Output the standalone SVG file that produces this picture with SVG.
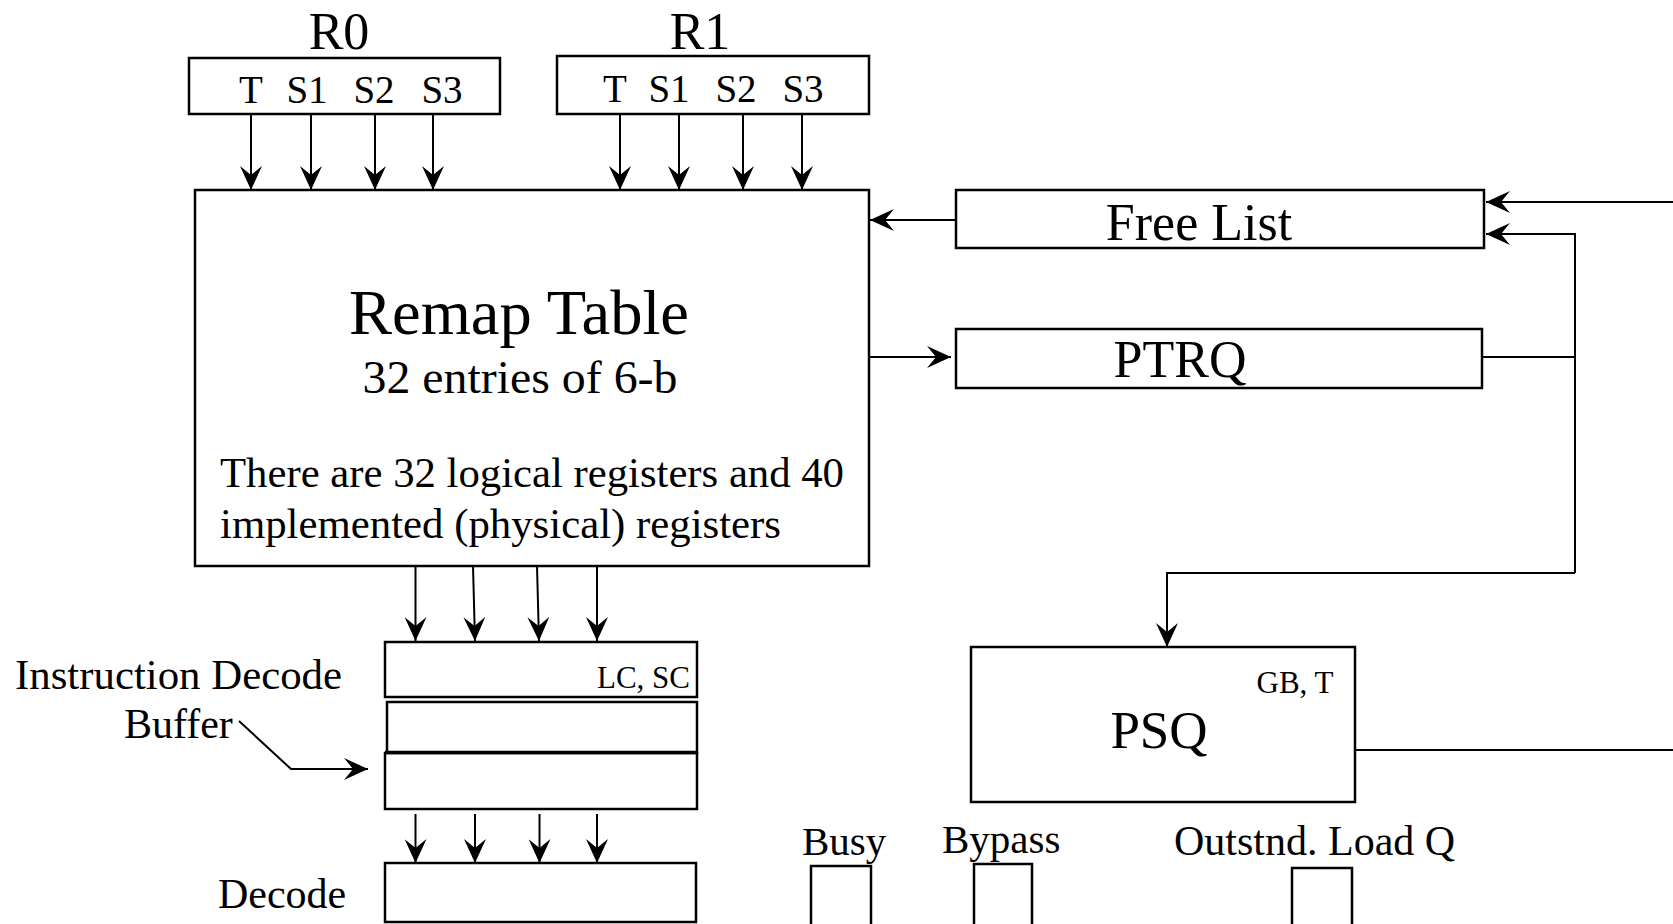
<svg xmlns="http://www.w3.org/2000/svg" width="1673" height="924" viewBox="0 0 1673 924">
<style>
.box{fill:#fff;stroke:#000;stroke-width:2.5}
.ln{fill:none;stroke:#000;stroke-width:2}
.arr{fill:none;stroke:#000;stroke-width:2;marker-end:url(#ah)}
text{font-family:"Liberation Serif","Times New Roman",serif;fill:#000}
.m{text-anchor:middle}
.e{text-anchor:end}
</style>
<defs>
<marker id="ah" markerUnits="userSpaceOnUse" viewBox="0 0 24 22" markerWidth="24" markerHeight="22" refX="24" refY="11" orient="auto">
<path d="M0,0 L24,11 L0,22 L9,11 Z" fill="#000"/>
</marker>
</defs>
<rect width="1673" height="924" fill="#fff"/>
<g id="connectors">
<path class="arr" d="M251,114 V190"/>
<path class="arr" d="M311,114 V190"/>
<path class="arr" d="M375,114 V190"/>
<path class="arr" d="M433,114 V190"/>
<path class="arr" d="M620,114 V190"/>
<path class="arr" d="M679,114 V190"/>
<path class="arr" d="M743,114 V190"/>
<path class="arr" d="M802,114 V190"/>
<path class="arr" d="M956,220 H870"/>
<path class="arr" d="M869,357 H951"/>
<path class="ln" d="M1482,357 H1575"/>
<path class="arr" d="M1575,573 V234 H1486"/>
<path class="arr" d="M1673,202 H1486"/>
<path class="arr" d="M1575,573 H1167 V647"/>
<path class="ln" d="M1352,750 H1673"/>
<path class="arr" d="M415.5,566 V641"/>
<path class="arr" d="M473,566 L475,641"/>
<path class="arr" d="M537,566 L539,641"/>
<path class="arr" d="M597,566 V641"/>
<path class="arr" d="M415.5,814 V863"/>
<path class="arr" d="M475,814 V863"/>
<path class="arr" d="M539.5,814 V863"/>
<path class="arr" d="M597,814 V863"/>
<path class="arr" d="M239,721 L291,769 H368"/>
</g>
<g id="r0">
<text class="m" x="339" y="49" font-size="52">R0</text>
<rect class="box" x="189" y="58" width="311" height="56"/>
<text class="m" x="251" y="103" font-size="39">T</text>
<text class="m" x="307" y="103" font-size="39">S1</text>
<text class="m" x="374" y="103" font-size="39">S2</text>
<text class="m" x="442" y="103" font-size="39">S3</text>
</g>
<g id="r1">
<text class="m" x="700" y="49" font-size="52">R1</text>
<rect class="box" x="557" y="56" width="312" height="58"/>
<text class="m" x="615" y="102" font-size="39">T</text>
<text class="m" x="669" y="102" font-size="39">S1</text>
<text class="m" x="736" y="102" font-size="39">S2</text>
<text class="m" x="803" y="102" font-size="39">S3</text>
</g>
<g id="remap">
<rect class="box" x="195" y="190" width="674" height="376"/>
<text class="m" x="519" y="334" font-size="64" textLength="340" lengthAdjust="spacingAndGlyphs">Remap Table</text>
<text class="m" x="520" y="393" font-size="47" textLength="315" lengthAdjust="spacingAndGlyphs">32 entries of 6-b</text>
<text x="220" y="487" font-size="42" textLength="624" lengthAdjust="spacingAndGlyphs">There are 32 logical registers and 40</text>
<text x="220" y="538" font-size="42" textLength="561" lengthAdjust="spacingAndGlyphs">implemented (physical) registers</text>
</g>
<g id="freelist">
<rect class="box" x="956" y="190" width="528" height="58"/>
<text class="m" x="1199" y="240" font-size="52">Free List</text>
</g>
<g id="ptrq">
<rect class="box" x="956" y="329" width="526" height="59"/>
<text class="m" x="1180" y="377" font-size="52">PTRQ</text>
</g>
<g id="psq">
<rect class="box" x="971" y="647" width="384" height="155"/>
<text class="m" x="1159" y="748" font-size="53">PSQ</text>
<text class="m" x="1295" y="693" font-size="31">GB, T</text>
</g>
<g id="idb">
<rect class="box" x="385" y="642" width="312" height="55"/>
<rect class="box" x="387" y="702" width="310" height="51"/>
<rect class="box" x="385" y="753" width="312" height="56"/>
<path d="M385,752.5 H697" stroke="#000" stroke-width="3.5"/>
<text class="e" x="690" y="688" font-size="31">LC, SC</text>
<text x="15" y="689" font-size="43" textLength="327" lengthAdjust="spacingAndGlyphs">Instruction Decode</text>
<text x="124" y="738" font-size="42">Buffer</text>
</g>
<g id="decode">
<rect class="box" x="385" y="863" width="311" height="59"/>
<text x="218" y="908" font-size="42">Decode</text>
</g>
<g id="busy">
<rect class="box" x="811" y="866" width="60" height="70"/>
<text x="802" y="855" font-size="41">Busy</text>
</g>
<g id="bypass">
<rect class="box" x="974" y="864" width="58" height="70"/>
<text x="942" y="853" font-size="41">Bypass</text>
</g>
<g id="loadq">
<rect class="box" x="1292" y="868" width="60" height="70"/>
<text x="1174" y="855" font-size="42">Outstnd. Load Q</text>
</g>
</svg>
